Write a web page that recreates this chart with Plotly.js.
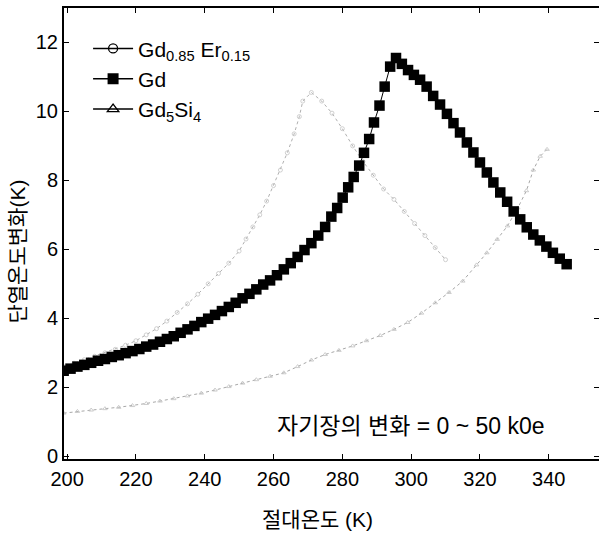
<!DOCTYPE html>
<html>
<head>
<meta charset="utf-8">
<script src="https://cdn.plot.ly/plotly-3.0.1.min.js"></script>
<style>html,body{margin:0;padding:0;background:#fff;}#chart{width:599px;height:535px;}</style>
</head>
<body>
<div id="chart"></div>
<script>
// Gd (filled squares)
const gdT = [199,201,203,205,207,209,211,213,215,217,219,221,223,225,227,229,231,233,235,237,239,241,243,245,247,249,251,253,255,257,259,261,263,265,267,269,271,273,275,
  276.8,278.5,280.1,281.7,283.3,284.9,286.3,287.8,289.2,290.8,292.3,293.9,295.6,
  297.3,299.1,300.8,302.6,304.5,306.4,308.4,310.4,312.3,314.2,316.2,318.1,320,322,323.9,325.9,327.9,329.8,331.7,333.6,335.5,337.4,339.3,341.2,343.2,345.2];
const gdDT = [2.48,2.54,2.6,2.65,2.71,2.77,2.82,2.88,2.93,2.99,3.05,3.11,3.18,3.24,3.32,3.4,3.48,3.58,3.68,3.78,3.89,3.99,4.1,4.21,4.33,4.45,4.58,4.71,4.84,4.98,5.1,5.25,5.42,5.6,5.78,5.98,6.18,6.4,6.65,
  6.95,7.2,7.5,7.8,8.1,8.43,8.8,9.2,9.68,10.17,10.72,11.3,11.55,
  11.38,11.2,11.06,10.92,10.72,10.45,10.2,9.93,9.66,9.39,9.1,8.81,8.52,8.23,7.94,7.65,7.38,7.1,6.87,6.64,6.43,6.26,6.08,5.9,5.73,5.57];

// Gd0.85Er0.15 (open circles, faint in the scan)
const erT = [199,202,205,208,211,214,217,220,223,226,229,232,235,238,241,244,247,250,252,254,256,258,260,262,264,266,267.5,268.5,271,274,277,280,283,286,289,292,295,298,301,304,307,310];
const erDT = [2.6,2.7,2.8,2.9,3.0,3.1,3.22,3.35,3.52,3.7,3.92,4.17,4.42,4.7,5.0,5.3,5.6,5.95,6.3,6.65,7.0,7.4,7.85,8.3,8.8,9.35,9.85,10.3,10.55,10.3,9.95,9.5,9.0,8.55,8.15,7.75,7.45,7.1,6.75,6.4,6.05,5.7];

// Gd5Si4 (open triangles, faint in the scan)
const siT = [199,203,207,211,215,219,223,227,231,235,239,243,247,251,255,259,263,267,271,275,279,283,287,291,295,299,303,307,311,315,319,322,325,328,331,333.5,335.5,337.5,339.5];
const siDT = [1.25,1.3,1.34,1.38,1.42,1.47,1.53,1.6,1.67,1.75,1.83,1.92,2.02,2.12,2.22,2.32,2.42,2.6,2.79,2.95,3.07,3.2,3.35,3.5,3.68,3.88,4.15,4.45,4.75,5.08,5.55,5.9,6.29,6.68,7.2,7.7,8.3,8.7,8.9];

const xTicks = [200,220,240,260,280,300,320,340];
const yTicks = [0,2,4,6,8,10,12];
const names = ['Gd<sub>0.85</sub> Er<sub>0.15</sub>', 'Gd', 'Gd<sub>5</sub>Si<sub>4</sub>'];
const annText = '자기장의 변화 = 0 ~ 50 k0e';
const xTitle = '절대온도 (K)';
const yTitle = '단열온도변화(K)';

const FONT = '"Liberation Sans", Arial, "Noto Sans CJK KR", sans-serif';
const KFONT = '"Liberation Sans", Arial, "Noto Sans CJK KR", sans-serif';

const traces = [
  {x: erT, y: erDT, type: 'scatter', mode: 'lines+markers', showlegend: false,
   line: {color: '#b0b0b0', width: 1, dash: 'dot'},
   marker: {symbol: 'circle-open', size: 4, color: '#c4c4c4', line: {width: 0.8}}},
  {x: siT, y: siDT, type: 'scatter', mode: 'lines+markers', showlegend: false,
   line: {color: '#a8a8a8', width: 1, dash: 'dot'},
   marker: {symbol: 'triangle-up-open', size: 4, color: '#c0c0c0', line: {width: 0.8}}},
  {x: gdT, y: gdDT, type: 'scatter', mode: 'lines+markers', showlegend: false,
   line: {color: '#000', width: 1},
   marker: {symbol: 'square', size: 10.5, color: '#000'}},
  // legend entries
  {x: [null], y: [null], type: 'scatter', mode: 'lines+markers', name: names[0],
   line: {color: '#000', width: 1.5}, marker: {symbol: 'circle-open', size: 9, color: '#000', line: {width: 1.3}}},
  {x: [null], y: [null], type: 'scatter', mode: 'lines+markers', name: names[1],
   line: {color: '#000', width: 1.5}, marker: {symbol: 'square', size: 11, color: '#000'}},
  {x: [null], y: [null], type: 'scatter', mode: 'lines+markers', name: names[2],
   line: {color: '#000', width: 1.5}, marker: {symbol: 'triangle-up-open', size: 10, color: '#000', line: {width: 1.3}}}
];

const layout = {
  width: 599, height: 535,
  margin: {l: 64, r: 0, t: 8, b: 76},
  paper_bgcolor: '#fff', plot_bgcolor: '#fff',
  font: {family: FONT, size: 20, color: '#000'},
  showlegend: true,
  legend: {x: 0.045, y: 0.955, xanchor: 'left', yanchor: 'top', bgcolor: 'rgba(0,0,0,0)',
           font: {family: '"Liberation Sans", Arial, sans-serif', size: 21}, itemwidth: 40, tracegroupgap: 0,
           traceorder: 'normal'},
  xaxis: {range: [199.1, 354.6], tickvals: xTicks, ticktext: xTicks.map(String),
          ticks: 'inside', ticklen: 5, tickwidth: 1, tickcolor: '#000',
          showline: true, linecolor: '#000', linewidth: 2, mirror: 'ticks',
          showgrid: false, zeroline: false, ticklabelstandoff: 1,
          tickfont: {family: FONT, size: 20}},
  yaxis: {range: [-0.08, 13.0], tickvals: yTicks, ticktext: yTicks.map(String),
          ticks: 'inside', ticklen: 5, tickwidth: 1, tickcolor: '#000',
          showline: true, linecolor: '#000', linewidth: 2, mirror: 'ticks',
          showgrid: false, zeroline: false, ticklabelstandoff: 0,
          tickfont: {family: FONT, size: 20}},
  annotations: [
    {xref: 'x', yref: 'y', x: 300, y: 0.88, text: annText, showarrow: false,
     xanchor: 'center', yanchor: 'middle', font: {family: KFONT, size: 23, color: '#000'}},
    {xref: 'paper', yref: 'paper', x: 0.474, y: -0.135, text: xTitle, showarrow: false,
     xanchor: 'center', yanchor: 'middle', font: {family: KFONT, size: 21, color: '#000'}},
    {xref: 'paper', yref: 'paper', x: -0.086, y: 0.46, text: yTitle, showarrow: false, textangle: -90,
     xanchor: 'center', yanchor: 'middle', font: {family: KFONT, size: 21, color: '#000'}}
  ]
};

Plotly.newPlot('chart', traces, layout, {displayModeBar: false, staticPlot: true});
</script>
</body>
</html>
